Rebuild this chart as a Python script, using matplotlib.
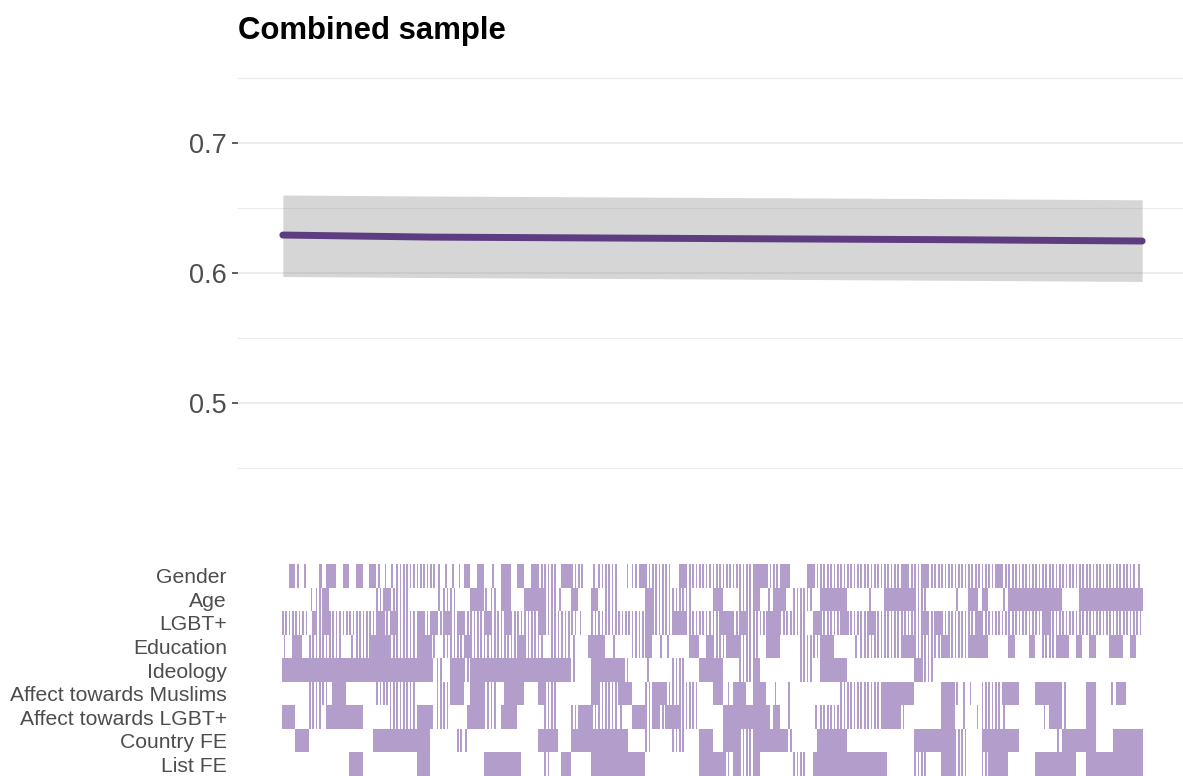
import matplotlib
matplotlib.use('Agg')
import matplotlib.pyplot as plt
import numpy as np

plt.rcParams['font.family'] = ['Liberation Sans', 'DejaVu Sans']

# ---------------- data ----------------
n_specs = 512
title = "Combined sample"

# estimate line and confidence band read at a few specification ranks
spec_rank = [1, 90, 256, 400, 512]
estimate = [0.6292, 0.6276, 0.6265, 0.6256, 0.6246]
ci_low = [0.5973, 0.5965, 0.5954, 0.5944, 0.5935]
ci_high = [0.6600, 0.6592, 0.6581, 0.6572, 0.6563]

y_major = [0.5, 0.6, 0.7]
y_minor = [0.45, 0.55, 0.65, 0.75]

controls = ["Gender", "Age", "LGBT+", "Education", "Ideology",
            "Affect towards Muslims", "Affect towards LGBT+",
            "Country FE", "List FE"]

# inclusion pattern per control, one char per block of 4 specifications
# '#'=1111 '.'=0000 ':'=1010 '|'=0100 'L'=1100 'R'=0011
gender_code = (".#||.RR#.#.#.#|||::::" "::||||#.#.|R#.#.#:::R" "#::.|:::.|:#::::.#::::"
               "::::::##::#L..#:::::::" "::::::#::#::::::::::#" "::::::::::::::::::::|")
age_code = ("....|:#.......:#:::.." "..|::..##|:R#..###::|" ".#..#.::....#::::::..."
            "#L..::#.|##.:::.####.." ".|.R####::....|.#L#.." "|########..R#########")
lgbt_code = ("::::R:#:::::::#:#:::#" ":#:#:#:::#::#::::#:::" "::|.::::::::#:::##::::"
             ":##:#:::##::::.#:::#::" ":#:::::::#:#:::::#:::" "::::::#::::::::::::::")
education_code = ("|R#.:::::.|::###::::#" "#:.:::#:::::::#:::.::" ":|.R##.|..::#.||..R#.#"
                  "::##:::.##...:::##...|" "::::::##::::#:::###.." ".#..#.::##.#.#..##.#.")
ideology_code = ("#####################" "#L:.##:##############" "#|..#####|..|...::..##"
                 "#L..::#......::.####.." "........#::.........." ".....................")
affect_muslims_code = ("....:::R#L....::::::." "..::##.##::.###..#::." "....#:::##..:##:::::.."
                       "#L|##.##.|.|.......:::" ":::#####....##|||.:::" "##L..####|..R#..|#L..")
affect_lgbt_code = ("##..::R#####....::::#" "#L::..R##::R##....::." ".:##::::|.##:#:##:::.."
                    ".R######L#.|...|::::::" ":::###|.....##.|.|:::" "|.....|##|..R#.......")
country_fe_code = ("..##.........R#######" "#....:|..........###." ".########L..:...::..##"
                   ".R##::#####:...R####.." "........######::..###" "##L.....|#####..R####")
list_fe_code = ("..........##........#" "#........#####L...:.R" "#...########........##"
                "##|#::#.....::.#######" "####....::..##::..:##" "#....######.R########")

indicator_codes = [gender_code, age_code, lgbt_code, education_code, ideology_code,
                   affect_muslims_code, affect_lgbt_code, country_fe_code, list_fe_code]

# ---------------- style ----------------
line_color = '#5E3C82'
tile_color = '#B39ECB'
grid_color = '#EBEBEB'
text_grey = '#4D4D4D'

W, H = 1183, 776
fig = plt.figure(figsize=(W / 100, H / 100), dpi=100)

px_per_unit = 861 / n_specs
x_left = 0.5 - (282 - 238) / px_per_unit
x_right = n_specs + 0.5 + (1183 - 1143) / px_per_unit

# ---------------- top panel ----------------
ax = fig.add_axes([238 / W, 1 - 472 / H, (W - 238) / W, 398 / H])
ax.set_xlim(x_left, x_right)
ax.set_ylim(0.6 - 199 / 1300, 0.6 + 199 / 1300)
for v in y_major:
    ax.axhline(v, color=grid_color, lw=1.3, zorder=0)
for v in y_minor:
    ax.axhline(v, color=grid_color, lw=0.8, zorder=0)
ax.fill_between(spec_rank, ci_low, ci_high, color='#999999', alpha=0.4, lw=0, zorder=1)
ax.plot(spec_rank, estimate, color=line_color, lw=5, solid_capstyle='round', zorder=2)
for s in ax.spines.values():
    s.set_visible(False)
ax.set_xticks([])
ax.set_yticks(y_major)
ax.set_yticklabels([f"{v:.1f}" for v in y_major])
ax.tick_params(axis='y', length=4.3, width=1.1, color='#333333', pad=4,
               labelsize=19.5, labelcolor=text_grey)

fig.text(238 / W, 1 - 39 / H, title, fontsize=22.4, fontweight='bold',
         ha='left', va='baseline', color='black')

# ---------------- bottom panel ----------------
cell_map = {'#': '1111', '.': '0000', ':': '1010', '|': '0100', 'L': '1100', 'R': '0011'}

bx = fig.add_axes([238 / W, 0, (W - 238) / W, 212 / H])
bx.set_xlim(x_left, x_right)
bx.set_ylim(len(controls), 0)
for r, code in enumerate(indicator_codes):
    code = (code + '.' * 128)[:128]
    bits = np.array([int(b) for c in code for b in cell_map.get(c, '0000')])[:n_specs]
    runs = []
    i = 0
    while i < len(bits):
        if bits[i] == 1:
            j = i
            while j < len(bits) and bits[j] == 1:
                j += 1
            runs.append((i + 0.5, j - i))
            i = j
        else:
            i += 1
    bx.broken_barh(runs, (r, 1), facecolors=tile_color, edgecolor='none')
for s in bx.spines.values():
    s.set_visible(False)
bx.set_xticks([])
bx.set_yticks([r + 0.5 for r in range(len(controls))])
bx.set_yticklabels(controls)
bx.tick_params(axis='y', length=0, pad=8, labelsize=15.2, labelcolor=text_grey)

fig.savefig('out.png', dpi=100)
